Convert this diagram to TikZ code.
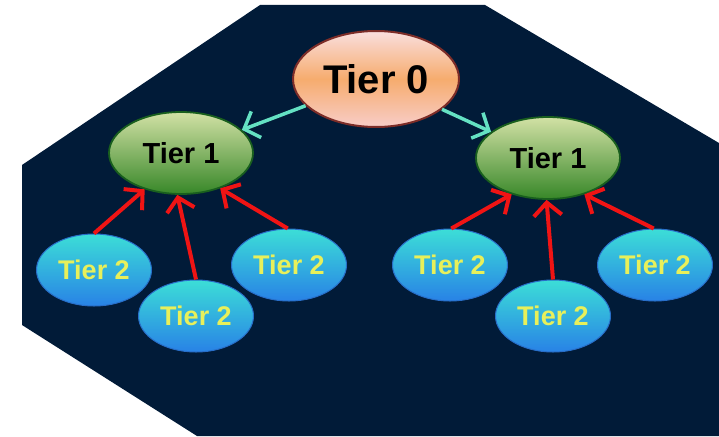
\documentclass[tikz,border=0pt]{standalone}
\usepackage{fontspec}
\setmainfont{Liberation Sans}
\usetikzlibrary{shapes.geometric,arrows.meta}
\definecolor{navy}{RGB}{1,27,56}
\definecolor{zeroTop}{RGB}{250,222,222}
\definecolor{zeroMid}{RGB}{246,172,110}
\definecolor{zeroBot}{RGB}{248,205,200}
\definecolor{zeroEdge}{RGB}{125,45,40}
\definecolor{oneTop}{RGB}{210,225,165}
\definecolor{oneBot}{RGB}{55,135,40}
\definecolor{oneEdge}{RGB}{25,95,30}
\definecolor{twoTop}{RGB}{60,222,215}
\definecolor{twoBot}{RGB}{40,130,230}
\definecolor{twoEdge}{RGB}{40,110,200}
\definecolor{twoText}{RGB}{232,240,90}
\definecolor{aqua}{RGB}{100,225,195}
\definecolor{redarrow}{RGB}{240,20,20}
\tikzset{
  tierzero/.style={ellipse, inner sep=0pt, minimum width=166pt, minimum height=96pt,
    top color=zeroTop, bottom color=zeroBot, middle color=zeroMid,
    draw=zeroEdge, line width=2pt, font=\bfseries\fontsize{40}{40}\selectfont, text=black},
  tierone/.style={ellipse, inner sep=0pt, minimum width=144pt, minimum height=82pt,
    top color=oneTop, bottom color=oneBot,
    draw=oneEdge, line width=1.8pt, font=\bfseries\fontsize{29}{29}\selectfont, text=black},
  tiertwo/.style={ellipse, inner sep=0pt, minimum width=115pt, minimum height=72pt,
    top color=twoTop, bottom color=twoBot,
    draw=twoEdge, line width=1pt, font=\bfseries\fontsize{27}{27}\selectfont, text=twoText},
  aquaarrow/.style={draw=aqua, line width=3.5pt,
    -{Straight Barb[length=13pt, width=28pt, line width=3.5pt]}},
  redarrowstyle/.style={draw=redarrow, line width=4pt,
    -{Straight Barb[length=13pt, width=28pt, line width=4pt]}}
}
\begin{document}
\begin{tikzpicture}[x=1pt,y=-1pt]
\useasboundingbox (0,0) rectangle (719,436);
\fill[navy] (260,5) -- (485,5) -- (719,143) -- (719,436) -- (197,436) -- (22,325) -- (22,165) -- cycle;

\node[tierzero] (t0) at (376,79) {Tier 0};
\node[tierone] (t1l) at (181,153) {Tier 1};
\node[tierone] (t1r) at (548,158) {Tier 1};

\node[tiertwo] (a) at (94,270) {Tier 2};
\node[tiertwo] (b) at (196,316) {Tier 2};
\node[tiertwo] (c) at (289,265) {Tier 2};
\node[tiertwo] (d) at (450,265) {Tier 2};
\node[tiertwo] (e) at (553,316) {Tier 2};
\node[tiertwo] (f) at (655,265) {Tier 2};

\draw[aquaarrow] (t0) -- (t1l);
\draw[aquaarrow] (t0) -- (t1r);

\draw[redarrowstyle] (a.90) -- (t1l.-135);
\draw[redarrowstyle] (b.90) -- (t1l.-95);
\draw[redarrowstyle] (c.92) -- (t1l.-42);
\draw[redarrowstyle] (d.88) -- (t1r.-135);
\draw[redarrowstyle] (e.90) -- (t1r.-92);
\draw[redarrowstyle] (f.92) -- (t1r.-45);
\end{tikzpicture}
\end{document}
